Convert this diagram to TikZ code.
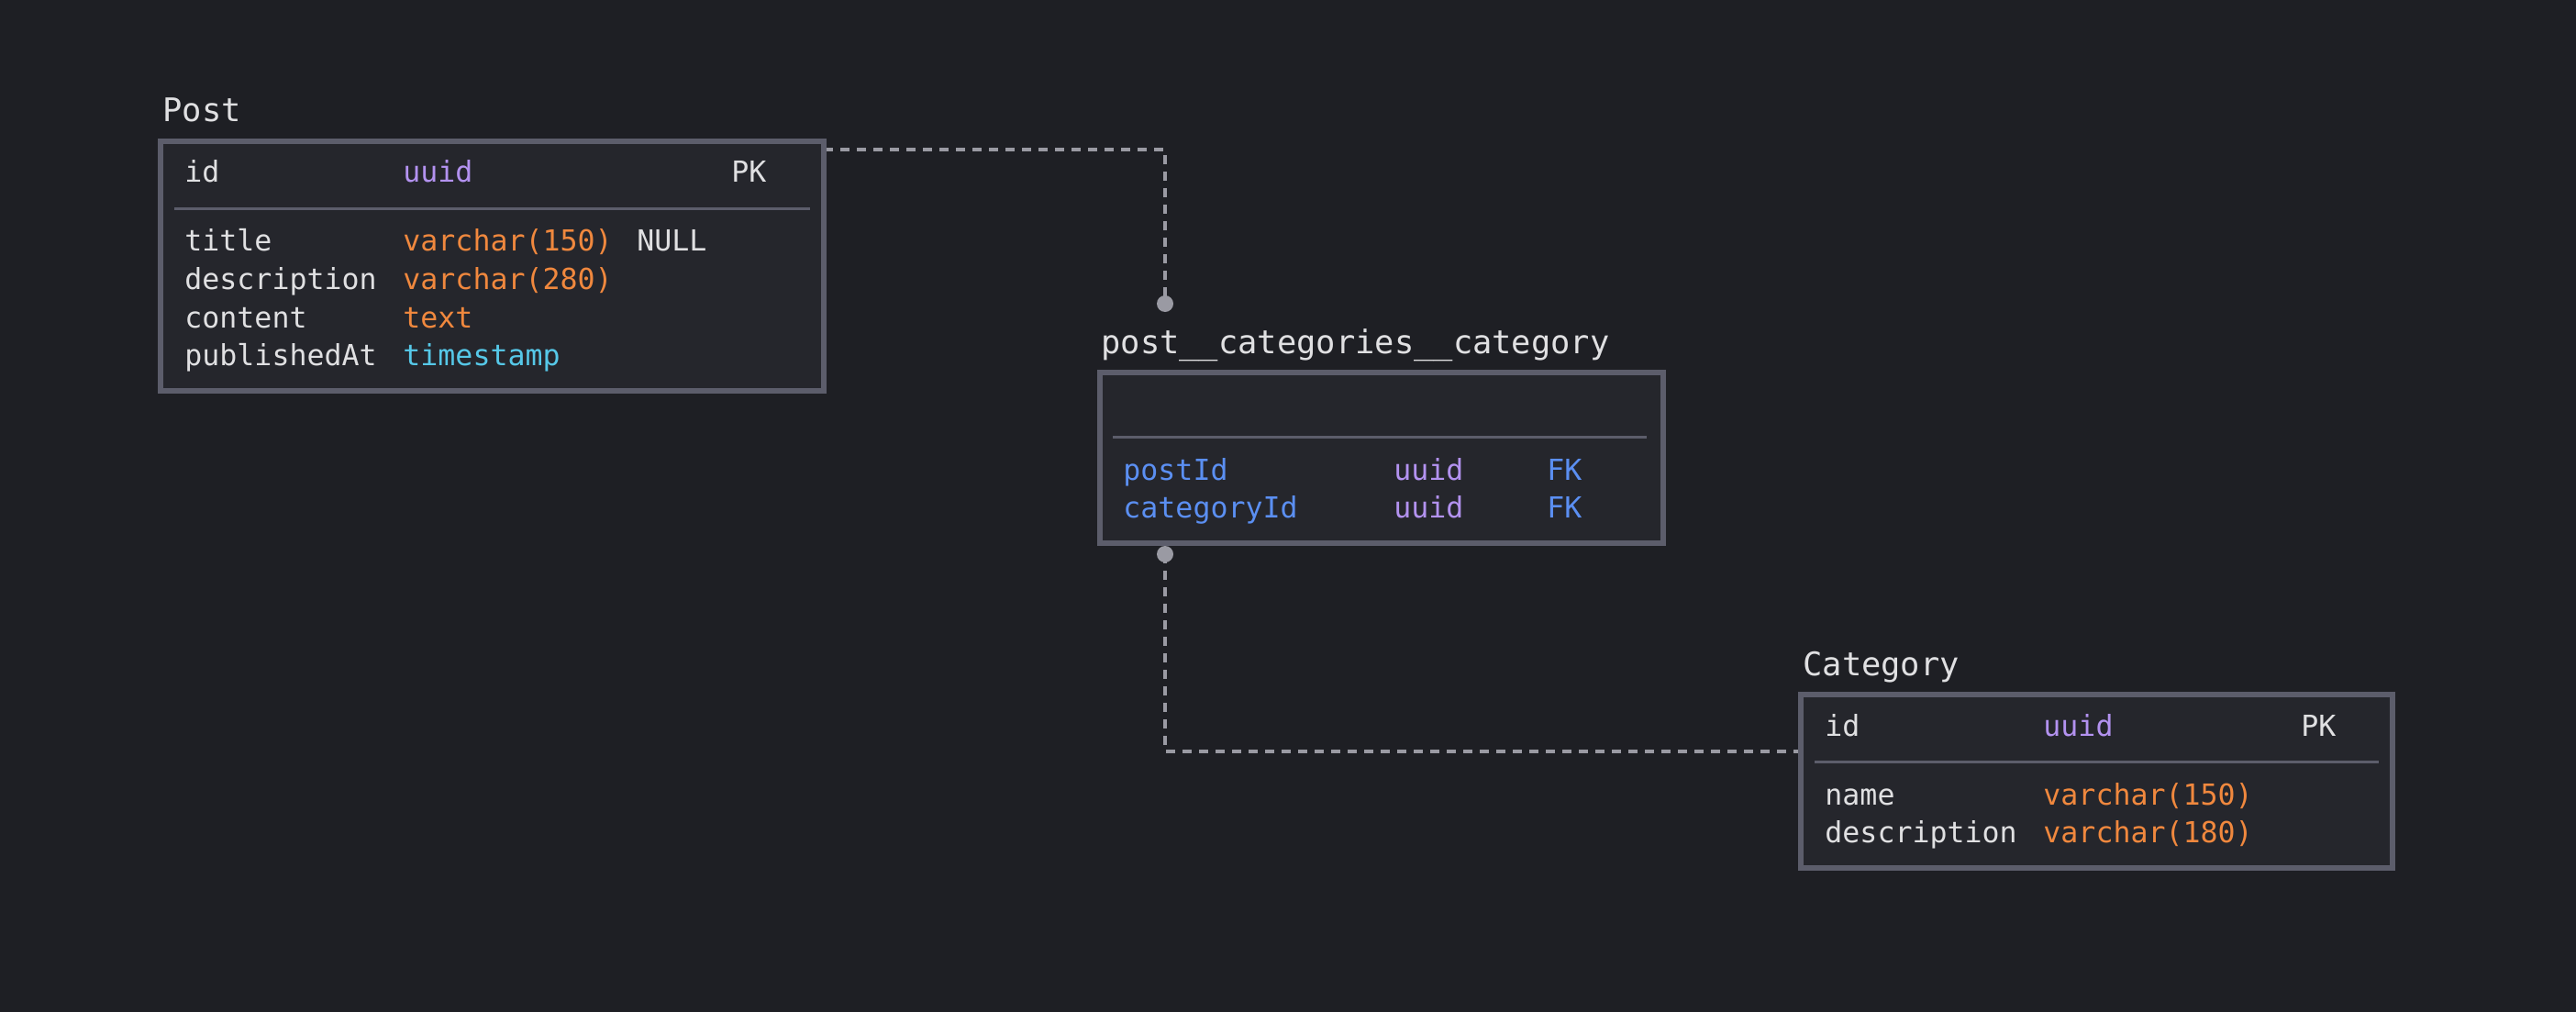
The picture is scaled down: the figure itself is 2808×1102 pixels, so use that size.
\documentclass[tikz,border=0pt]{standalone}
\usepackage{fontspec}
\newfontfamily\erfont{DejaVu Sans Mono}
\definecolor{bg}{HTML}{1E1F24}
\definecolor{boxfill}{HTML}{25262C}
\definecolor{boxline}{HTML}{5C5D6B}
\definecolor{txt}{HTML}{E0E0E2}
\definecolor{purp}{HTML}{B392F0}
\definecolor{orng}{HTML}{F0883E}
\definecolor{tcyan}{HTML}{56C8E8}
\definecolor{tblue}{HTML}{5B8FF2}
\definecolor{relcol}{HTML}{9A9AA3}
\pgfdeclarelayer{backlayer}
\pgfsetlayers{backlayer,main}
\begin{document}
\begin{tikzpicture}[x=0.5pt,y=-0.5pt,
  tbl/.style={draw=boxline, line width=3pt, fill=boxfill, rectangle, inner sep=0pt, outer sep=0pt},
  ttl/.style={anchor=base west, inner sep=0pt, text=txt, font=\erfont\fontsize{17.7pt}{20pt}\selectfont},
  cell/.style={anchor=base west, inner sep=0pt, font=\erfont\fontsize{15.8pt}{18pt}\selectfont},
  fld/.style={cell, text=txt},
  typ/.style={cell, text=purp},
  otyp/.style={cell, text=orng},
  ctyp/.style={cell, text=tcyan},
  fk/.style={cell, text=tblue},
  sepline/.style={draw=boxline, line width=1.5pt},
  rel/.style={draw=relcol, line width=1.8pt, dash pattern=on 5pt off 4pt},
  dotn/.style={circle, fill=relcol, inner sep=0pt, outer sep=0pt, minimum size=9pt}]
\useasboundingbox (0,0) rectangle (2808,1102);

% helper coordinates for connector rows
\coordinate (rowA) at (0,163);
\coordinate (rowB) at (0,819);

% tables
\node[tbl, minimum width=361.5pt, minimum height=136pt] (post) at (536.5,290) {};
\node[tbl, minimum width=307pt, minimum height=93pt] (pcc) at (1505.5,499) {};
\node[tbl, minimum width=322.5pt, minimum height=94.5pt] (cat) at (2285.5,851.5) {};

% dots
\node[dotn] (dotA) at (1270,331) {};
\node[dotn] (dotB) at (1270,604) {};

% background and connectors
\begin{pgfonlayer}{backlayer}
\fill[bg] (-20,-20) rectangle (2828,1122);
\draw[rel] (post.east |- rowA) -| (dotA.center);
\draw[rel] (dotB.center) |- (cat.west |- rowB);
\end{pgfonlayer}

% titles
\node[ttl] (postT) at (177,133) {Post};
\node[ttl] (pccT) at (1200,385) {post\_\_categories\_\_category};
\node[ttl] (catT) at (1965,736) {Category};

% Post rows
\node[fld] (p1n) at (201,198) {id};
\node[typ] (p1t) at (439,198) {uuid};
\node[fld] (p1k) at (797,198) {PK};
\draw[sepline] (190,227) -- (883,227);
\node[fld] (p2n) at (201,273.5) {title};
\node[otyp] (p2t) at (439,273.5) {varchar(150)};
\node[fld] (p2k) at (694,273.5) {NULL};
\node[fld] (p3n) at (201,315.5) {description};
\node[otyp] (p3t) at (439,315.5) {varchar(280)};
\node[fld] (p4n) at (201,357) {content};
\node[otyp] (p4t) at (439,357) {text};
\node[fld] (p5n) at (201,398.5) {publishedAt};
\node[ctyp] (p5t) at (439,398.5) {timestamp};

% junction rows
\draw[sepline] (1213,476) -- (1795,476);
\node[fk] (j1n) at (1224,523) {postId};
\node[typ] (j1t) at (1519,523) {uuid};
\node[fk] (j1k) at (1686,523) {FK};
\node[fk] (j2n) at (1224,564) {categoryId};
\node[typ] (j2t) at (1519,564) {uuid};
\node[fk] (j2k) at (1686,564) {FK};

% Category rows
\node[fld] (c1n) at (1989,802) {id};
\node[typ] (c1t) at (2227,802) {uuid};
\node[fld] (c1k) at (2508,802) {PK};
\draw[sepline] (1978,830) -- (2593,830);
\node[fld] (c2n) at (1989,877) {name};
\node[otyp] (c2t) at (2227,877) {varchar(150)};
\node[fld] (c3n) at (1989,918) {description};
\node[otyp] (c3t) at (2227,918) {varchar(180)};
\end{tikzpicture}
\end{document}
